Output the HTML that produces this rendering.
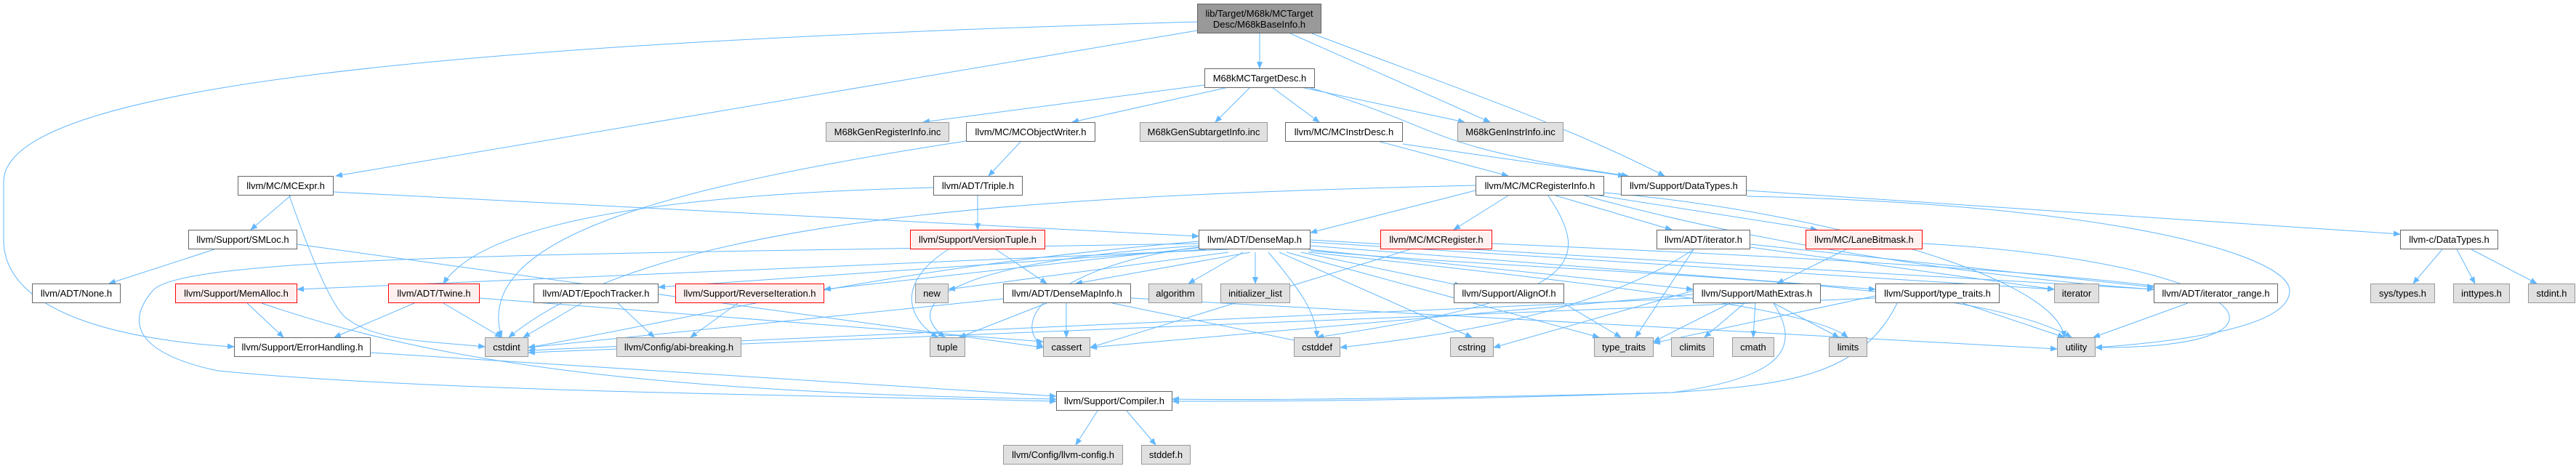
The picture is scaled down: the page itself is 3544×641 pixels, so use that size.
<!DOCTYPE html>
<html><head><meta charset="utf-8"><style>
html,body{margin:0;padding:0;background:#fff;}
body{width:3544px;height:641px;position:relative;overflow:hidden;font-family:"Liberation Sans",Arial,sans-serif;}
.n{position:absolute;box-sizing:border-box;border:1px solid #666;background:#fff;font-size:13px;color:#000;display:flex;align-items:center;justify-content:center;white-space:nowrap;height:27px;}
.g{background:#e0e0e0;border-color:#999;}
.r{background:#fff0f0;border-color:#f00;}
.root{background:#999;border-color:#666;height:41px;line-height:15px;text-align:center;}
svg{position:absolute;left:0;top:0;}
</style></head><body>
<svg width="3544" height="641" viewBox="0 0 3544 641">
<defs><marker id="a" markerWidth="10" markerHeight="8" refX="9" refY="4" orient="auto" markerUnits="userSpaceOnUse"><path d="M0,0 L10,4 L0,8 z" fill="#63b8ff"/></marker></defs>
<g fill="none" stroke="#63b8ff" stroke-width="1" marker-end="url(#a)">
<path d="M1733,46 L1733,94"/>
<path d="M1647,42 L462,242"/>
<path d="M1647,30 C600,60 5,120 5,250 L5,330 C5,440 200,470 322,477"/>
<path d="M1775,46 L2050,168"/>
<path d="M1805,46 C2000,120 2150,170 2290,242"/>
<path d="M1657,117 L1270,168"/>
<path d="M1690,120 L1475,168"/>
<path d="M1720,120 L1672,168"/>
<path d="M1750,120 L1815,168"/>
<path d="M1790,120 L2015,168"/>
<path d="M1800,120 C2000,180 1950,200 2240,242"/>
<path d="M1329,194 C900,260 650,330 690,464"/>
<path d="M1405,194 L1360,242"/>
<path d="M1895,194 L2075,242"/>
<path d="M1930,198 L2235,242"/>
<path d="M400,269 L345,316"/>
<path d="M459,264 L1649,325"/>
<path d="M398,269 C430,360 460,430 480,440 C520,470 600,470 667,477"/>
<path d="M295,343 L150,390"/>
<path d="M409,336 L1435,478"/>
<path d="M1284,258 C800,270 650,330 610,390"/>
<path d="M1345,269 L1345,316"/>
<path d="M1305,343 C1230,390 1250,440 1290,464"/>
<path d="M1370,343 L1440,390"/>
<path d="M2030,262 L1803,320"/>
<path d="M2030,255 C1400,270 900,300 700,464"/>
<path d="M2075,269 L2000,316"/>
<path d="M2130,269 C2190,360 2180,410 1812,464"/>
<path d="M2140,269 L2300,316"/>
<path d="M2200,269 L2500,316"/>
<path d="M2180,269 C2400,330 2700,380 2963,398"/>
<path d="M2207,265 C2500,290 2830,380 2840,464"/>
<path d="M2403,262 L3302,322"/>
<path d="M2403,270 C2900,280 3150,350 3150,400 C3150,450 3000,470 2883,478"/>
<path d="M1690,343 L409,398"/>
<path d="M1660,343 L906,395"/>
<path d="M1655,340 L1134,398"/>
<path d="M1690,347 L1305,398"/>
<path d="M1720,347 L1480,390"/>
<path d="M1710,347 L1635,390"/>
<path d="M1727,347 L1727,390"/>
<path d="M1745,347 C1790,400 1810,430 1812,464"/>
<path d="M1760,347 L2025,464"/>
<path d="M1790,347 L2010,393"/>
<path d="M1800,343 L2329,398"/>
<path d="M1803,338 L2580,398"/>
<path d="M1803,333 L2826,398"/>
<path d="M1803,330 L2963,398"/>
<path d="M1803,345 C2200,380 2700,380 2850,464"/>
<path d="M1770,347 L2200,464"/>
<path d="M1800,347 C2300,400 2500,430 2542,464"/>
<path d="M1649,335 C800,350 250,350 210,400 C150,470 250,500 300,510 C600,540 1200,545 1453,552"/>
<path d="M1649,338 C1300,360 1240,420 1300,464"/>
<path d="M1649,332 C1200,370 1000,430 727,478"/>
<path d="M1649,340 C1480,360 1380,430 1435,478"/>
<path d="M1940,343 L1500,478"/>
<path d="M2053,335 C2400,350 2800,370 3000,398"/>
<path d="M2330,343 L2250,464"/>
<path d="M2330,343 C2200,430 2000,460 1844,478"/>
<path d="M2408,340 L2826,398"/>
<path d="M2408,336 L2963,395"/>
<path d="M2540,343 L2445,390"/>
<path d="M2645,335 C3100,360 3200,480 2883,478"/>
<path d="M2329,400 L2055,478"/>
<path d="M2380,417 L2275,470"/>
<path d="M2400,417 L2345,464"/>
<path d="M2415,417 L2412,464"/>
<path d="M2440,417 L2530,464"/>
<path d="M2329,405 L1500,478"/>
<path d="M2330,410 L727,482"/>
<path d="M2440,417 C2480,480 2450,520 2300,540 C2000,550 1800,552 1613,552"/>
<path d="M2580,407 L2275,472"/>
<path d="M2700,417 L2840,464"/>
<path d="M2610,417 C2560,520 2450,530 2300,540 C1900,550 1700,550 1613,549"/>
<path d="M3010,417 L2880,464"/>
<path d="M3360,343 L3320,390"/>
<path d="M3380,343 L3405,390"/>
<path d="M3400,343 L3490,390"/>
<path d="M340,417 L390,464"/>
<path d="M360,417 C600,500 900,540 1453,549"/>
<path d="M570,417 L460,464"/>
<path d="M610,417 L690,464"/>
<path d="M660,410 L1435,470"/>
<path d="M800,417 L720,464"/>
<path d="M850,417 L900,464"/>
<path d="M1015,417 L950,464"/>
<path d="M1390,410 L727,478"/>
<path d="M1440,417 L1320,464"/>
<path d="M1467,417 L1467,464"/>
<path d="M1530,417 L1790,470"/>
<path d="M1556,410 L2830,480"/>
<path d="M510,485 L1453,545"/>
<path d="M1510,565 L1480,612"/>
<path d="M1550,565 L1590,612"/>
<path d="M2580,410 L727,485"/>
<path d="M2151,417 L2230,464"/>
</g>
</svg>
<div class="n root" style="left:1647px;top:5px;width:171px;">lib/Target/M68k/MCTarget<br>Desc/M68kBaseInfo.h</div>
<div class="n" style="left:1657px;top:94px;width:152px;">M68kMCTargetDesc.h</div>
<div class="n g" style="left:1136px;top:168px;width:170px;">M68kGenRegisterInfo.inc</div>
<div class="n" style="left:1329px;top:168px;width:178px;">llvm/MC/MCObjectWriter.h</div>
<div class="n g" style="left:1568px;top:168px;width:176px;">M68kGenSubtargetInfo.inc</div>
<div class="n" style="left:1768px;top:168px;width:162px;">llvm/MC/MCInstrDesc.h</div>
<div class="n g" style="left:2005px;top:168px;width:146px;">M68kGenInstrInfo.inc</div>
<div class="n" style="left:327px;top:242px;width:132px;">llvm/MC/MCExpr.h</div>
<div class="n" style="left:1284px;top:242px;width:123px;">llvm/ADT/Triple.h</div>
<div class="n" style="left:2030px;top:242px;width:177px;">llvm/MC/MCRegisterInfo.h</div>
<div class="n" style="left:2230px;top:242px;width:173px;">llvm/Support/DataTypes.h</div>
<div class="n" style="left:259px;top:316px;width:150px;">llvm/Support/SMLoc.h</div>
<div class="n r" style="left:1252px;top:316px;width:186px;">llvm/Support/VersionTuple.h</div>
<div class="n" style="left:1649px;top:316px;width:154px;">llvm/ADT/DenseMap.h</div>
<div class="n r" style="left:1899px;top:316px;width:154px;">llvm/MC/MCRegister.h</div>
<div class="n" style="left:2279px;top:316px;width:129px;">llvm/ADT/iterator.h</div>
<div class="n r" style="left:2484px;top:316px;width:161px;">llvm/MC/LaneBitmask.h</div>
<div class="n" style="left:3302px;top:316px;width:135px;">llvm-c/DataTypes.h</div>
<div class="n" style="left:44px;top:390px;width:122px;">llvm/ADT/None.h</div>
<div class="n r" style="left:241px;top:390px;width:168px;">llvm/Support/MemAlloc.h</div>
<div class="n r" style="left:534px;top:390px;width:126px;">llvm/ADT/Twine.h</div>
<div class="n" style="left:734px;top:390px;width:172px;">llvm/ADT/EpochTracker.h</div>
<div class="n r" style="left:929px;top:390px;width:205px;">llvm/Support/ReverseIteration.h</div>
<div class="n g" style="left:1259px;top:390px;width:46px;">new</div>
<div class="n" style="left:1380px;top:390px;width:176px;">llvm/ADT/DenseMapInfo.h</div>
<div class="n g" style="left:1580px;top:390px;width:74px;">algorithm</div>
<div class="n g" style="left:1679px;top:390px;width:96px;">initializer_list</div>
<div class="n" style="left:2000px;top:390px;width:152px;">llvm/Support/AlignOf.h</div>
<div class="n" style="left:2329px;top:390px;width:176px;">llvm/Support/MathExtras.h</div>
<div class="n" style="left:2580px;top:390px;width:171px;">llvm/Support/type_traits.h</div>
<div class="n g" style="left:2826px;top:390px;width:62px;">iterator</div>
<div class="n" style="left:2963px;top:390px;width:171px;">llvm/ADT/iterator_range.h</div>
<div class="n g" style="left:3261px;top:390px;width:89px;">sys/types.h</div>
<div class="n g" style="left:3375px;top:390px;width:78px;">inttypes.h</div>
<div class="n g" style="left:3478px;top:390px;width:65px;">stdint.h</div>
<div class="n" style="left:322px;top:464px;width:188px;">llvm/Support/ErrorHandling.h</div>
<div class="n g" style="left:667px;top:464px;width:60px;">cstdint</div>
<div class="n g" style="left:848px;top:464px;width:172px;">llvm/Config/abi-breaking.h</div>
<div class="n g" style="left:1279px;top:464px;width:49px;">tuple</div>
<div class="n g" style="left:1435px;top:464px;width:65px;">cassert</div>
<div class="n g" style="left:1780px;top:464px;width:64px;">cstddef</div>
<div class="n g" style="left:1995px;top:464px;width:60px;">cstring</div>
<div class="n g" style="left:2193px;top:464px;width:82px;">type_traits</div>
<div class="n g" style="left:2299px;top:464px;width:59px;">climits</div>
<div class="n g" style="left:2383px;top:464px;width:58px;">cmath</div>
<div class="n g" style="left:2516px;top:464px;width:53px;">limits</div>
<div class="n g" style="left:2830px;top:464px;width:53px;">utility</div>
<div class="n" style="left:1453px;top:538px;width:160px;">llvm/Support/Compiler.h</div>
<div class="n g" style="left:1380px;top:612px;width:165px;">llvm/Config/llvm-config.h</div>
<div class="n g" style="left:1570px;top:612px;width:68px;">stddef.h</div>
</body></html>
